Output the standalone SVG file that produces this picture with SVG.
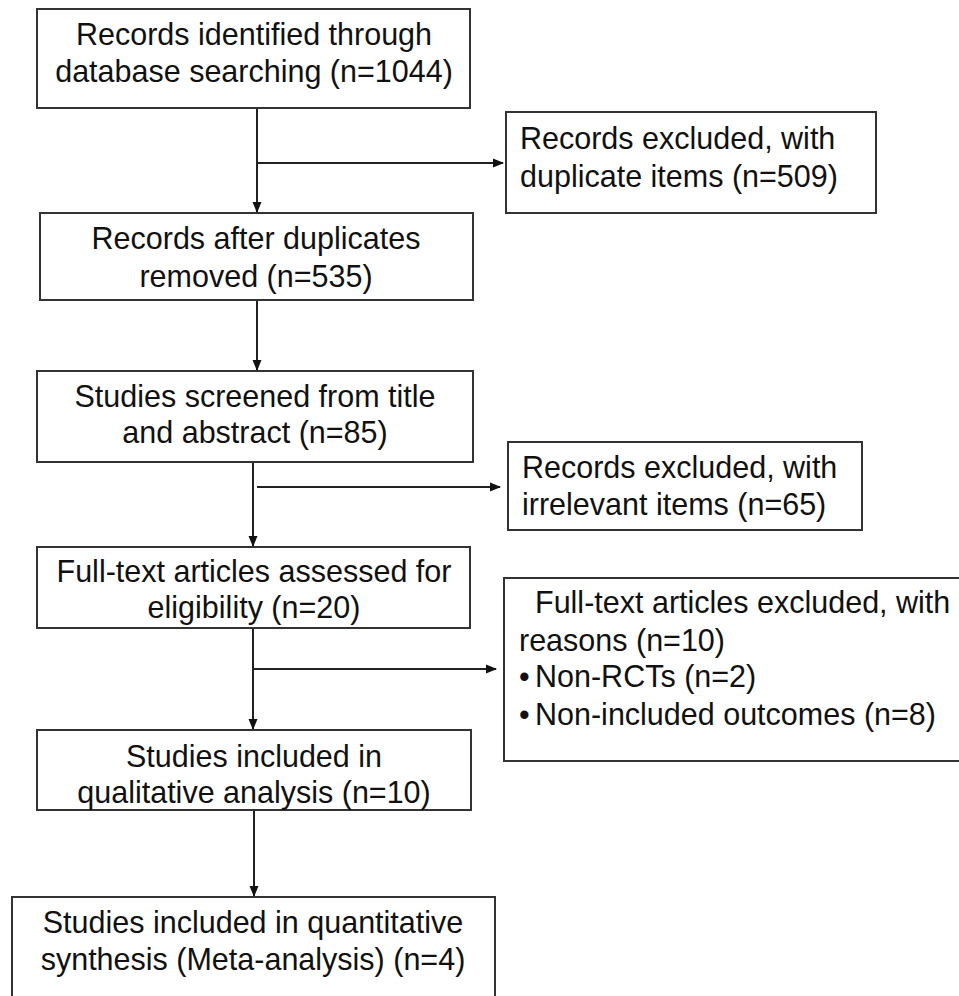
<svg xmlns="http://www.w3.org/2000/svg" width="959" height="996" viewBox="0 0 959 996">
<defs>
<marker id="ah" markerWidth="11" markerHeight="10" refX="10" refY="5" orient="auto" markerUnits="userSpaceOnUse">
<path d="M0,0.5 L11,5 L0,9.5 Z" fill="#111"/>
</marker>
<style>
.box{fill:#fff;stroke:#333;stroke-width:2}
.t{font-family:"Liberation Sans",Arial,sans-serif;font-size:30.5px;fill:#111}
.c{text-anchor:middle}
.ln{stroke:#222;stroke-width:2;fill:none}
</style>
</defs>
<rect width="959" height="996" fill="#fff"/>
<g id="connectors">
<line class="ln" x1="257" y1="109" x2="257" y2="212" marker-end="url(#ah)"/>
<line class="ln" x1="257" y1="163" x2="503" y2="163" marker-end="url(#ah)"/>
<line class="ln" x1="257" y1="300" x2="257" y2="370" marker-end="url(#ah)"/>
<line class="ln" x1="253" y1="462" x2="253" y2="546" marker-end="url(#ah)"/>
<line class="ln" x1="257" y1="487" x2="500" y2="487" marker-end="url(#ah)"/>
<line class="ln" x1="253" y1="628" x2="253" y2="729" marker-end="url(#ah)"/>
<line class="ln" x1="253" y1="669" x2="496" y2="669" marker-end="url(#ah)"/>
<line class="ln" x1="254" y1="810" x2="254" y2="896" marker-end="url(#ah)"/>
</g>
<g id="n1">
<rect class="box" x="37" y="9" width="433" height="99"/>
<text class="t c" x="254" y="45">Records identified through</text>
<text class="t c" x="254" y="82">database searching (n=1044)</text>
</g>
<g id="n2">
<rect class="box" x="506" y="112" width="370" height="101"/>
<text class="t" x="520" y="149">Records excluded, with</text>
<text class="t" x="520" y="187">duplicate items (n=509)</text>
</g>
<g id="n3">
<rect class="box" x="40" y="213" width="433" height="87"/>
<text class="t c" x="256" y="249">Records after duplicates</text>
<text class="t c" x="256" y="287">removed (n=535)</text>
</g>
<g id="n4">
<rect class="box" x="37" y="371" width="436" height="91"/>
<text class="t c" x="255" y="407">Studies screened from title</text>
<text class="t c" x="255" y="443">and abstract (n=85)</text>
</g>
<g id="n5">
<rect class="box" x="508" y="442" width="354" height="88"/>
<text class="t" x="522" y="478">Records excluded, with</text>
<text class="t" x="522" y="515">irrelevant items (n=65)</text>
</g>
<g id="n6">
<rect class="box" x="37" y="547" width="433" height="81"/>
<text class="t c" x="254" y="582">Full-text articles assessed for</text>
<text class="t c" x="254" y="618">eligibility (n=20)</text>
</g>
<g id="n7">
<rect class="box" x="504" y="578" width="470" height="183"/>
<text class="t" x="535" y="613">Full-text articles excluded, with</text>
<text class="t" x="519" y="651">reasons (n=10)</text>
<text class="t" x="519" y="687">•<tspan x="535">Non-RCTs (n=2)</tspan></text>
<text class="t" x="519" y="725">•<tspan x="535">Non-included outcomes (n=8)</tspan></text>
</g>
<g id="n8">
<rect class="box" x="37" y="730" width="434" height="80"/>
<text class="t c" x="254" y="767">Studies included in</text>
<text class="t c" x="254" y="803">qualitative analysis (n=10)</text>
</g>
<g id="n9">
<rect class="box" x="12" y="897" width="483" height="110"/>
<text class="t c" x="253" y="933">Studies included in quantitative</text>
<text class="t c" x="253" y="970">synthesis (Meta-analysis) (n=4)</text>
</g>
</svg>
